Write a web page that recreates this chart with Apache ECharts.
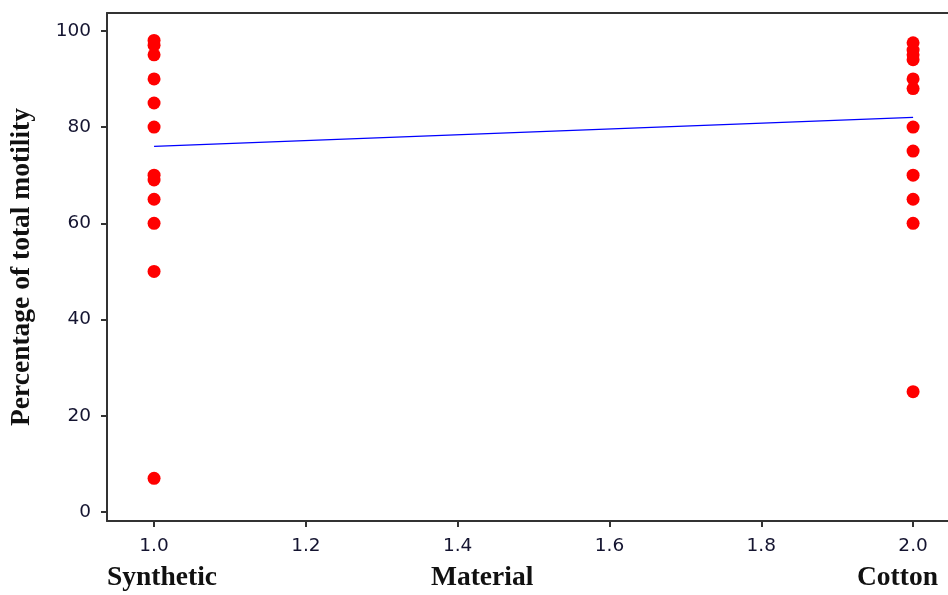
<!DOCTYPE html>
<html><head><meta charset="utf-8">
<script src="https://cdn.jsdelivr.net/npm/echarts@6/dist/echarts.min.js"></script>
<style>html,body{margin:0;padding:0;background:#fff}#c{width:948px;height:595px}</style>
</head><body><div id="c"></div>
<script>
const syntheticValues = [98, 97, 95, 90, 85, 80, 70, 69, 65, 60, 50, 7];
const cottonValues = [97.5, 96, 95, 94, 90, 88, 80, 75, 70, 65, 60, 25];
const materialCodes = [1, 2];
const fitLine = [76, 82];
const xTicks = [1.0, 1.2, 1.4, 1.6, 1.8, 2.0];
const yTicks = [0, 20, 40, 60, 80, 100];
const groupNames = ['Synthetic', 'Cotton'];
const xTitle = 'Material';
const yTitle = 'Percentage of total motility';

const points = [];
syntheticValues.forEach(v => points.push([materialCodes[0], v]));
cottonValues.forEach(v => points.push([materialCodes[1], v]));

const chart = echarts.init(document.getElementById('c'));
const axisCol = '#333';
const tickFont = { color: '#141430', fontFamily: 'DejaVu Sans', fontSize: 18.5 };
chart.setOption({
  animation: false,
  grid: { left: 105, right: 0, top: 13, bottom: 74 },
  xAxis: [{
    type: 'value', min: 0.938, max: 2.046,
    axisLine: { show: true, onZero: false, lineStyle: { color: axisCol, width: 2 } },
    axisTick: { show: true, customValues: xTicks, length: 6, lineStyle: { color: axisCol, width: 2 } },
    axisLabel: Object.assign({ customValues: xTicks, formatter: v => v.toFixed(1), margin: 16 }, tickFont),
    splitLine: { show: false }
  }, {
    type: 'value', position: 'top', min: 0.938, max: 2.046,
    axisLine: { show: true, onZero: false, lineStyle: { color: axisCol, width: 2 } },
    axisTick: { show: false }, axisLabel: { show: false }, splitLine: { show: false }
  }],
  yAxis: {
    type: 'value', min: -1.87, max: 103.7,
    axisLine: { show: true, onZero: false, lineStyle: { color: axisCol, width: 2 } },
    axisTick: { show: true, customValues: yTicks, length: 6, lineStyle: { color: axisCol, width: 2 } },
    axisLabel: Object.assign({ customValues: yTicks, margin: 16 }, tickFont),
    splitLine: { show: false },
    name: yTitle, nameLocation: 'middle', nameGap: 71,
    nameTextStyle: { fontFamily: 'Liberation Serif', fontWeight: 'bold', fontSize: 27.5, color: '#111' }
  },
  graphic: [
    { type: 'text', left: 107, top: 564, style: { text: groupNames[0], font: 'bold 27.5px "Liberation Serif"', fill: '#111' } },
    { type: 'text', left: 431, top: 564, style: { text: xTitle, font: 'bold 27.5px "Liberation Serif"', fill: '#111' } },
    { type: 'text', left: 857, top: 564, style: { text: groupNames[1], font: 'bold 27.5px "Liberation Serif"', fill: '#111' } }
  ],
  series: [{
    type: 'scatter', data: points, symbol: 'circle', symbolSize: 13,
    itemStyle: { color: '#ff0000', opacity: 1 }
  }, {
    type: 'line', data: materialCodes.map((m, i) => [m, fitLine[i]]),
    symbol: 'none', lineStyle: { color: '#0000ff', width: 1.3 }
  }]
});
</script></body></html>
